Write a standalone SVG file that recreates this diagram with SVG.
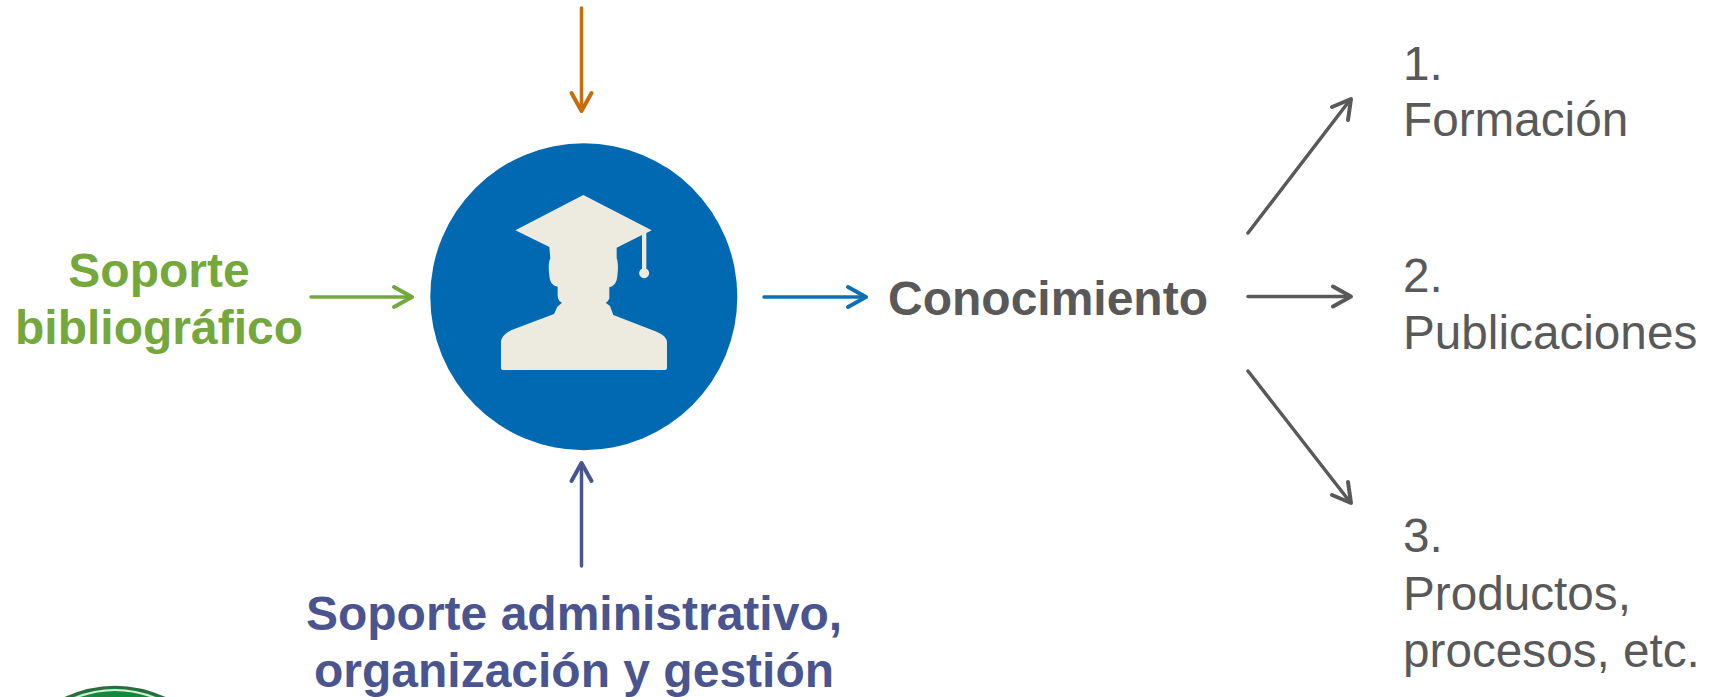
<svg xmlns="http://www.w3.org/2000/svg" width="1716" height="697" viewBox="0 0 1716 697">
<style>
text{font-family:"Liberation Sans",Arial,sans-serif}
.b{font-weight:700;font-size:48px;text-anchor:middle}
.r{font-size:47.700px;fill:#595959}
.c{fill:none;stroke-width:3.500px;stroke-linecap:round;stroke-linejoin:round}
.h{stroke-width:4px}
</style>
<rect width="1716" height="697" fill="#fff"/>
<g id="connectors">
<g class="c" stroke="#c66d0c"><path d="M581.500 8V111"/><path class="h" d="M571.500 93L581.500 111L591.500 93"/></g>
<g class="c" stroke="#74a83c"><path d="M311 297H412"/><path class="h" d="M394 287L412 297L394 307"/></g>
<g class="c" stroke="#0f6fb5"><path d="M764 297H866"/><path class="h" d="M848 287L866 297L848 307"/></g>
<g class="c" stroke="#4a5590"><path d="M581.500 566V463"/><path class="h" d="M571.500 481L581.500 463L591.500 481"/></g>
<g class="c" stroke="#595959"><path d="M1248 233L1350 100"/><path class="h" d="M1332 107L1351 99L1348 120"/></g>
<g class="c" stroke="#595959"><path d="M1248 296.500H1350"/><path class="h" d="M1333 286.500L1351 296.500L1333 306.500"/></g>
<g class="c" stroke="#595959"><path d="M1248 371L1350 502"/><path class="h" d="M1348 482L1351 503L1332 495"/></g>
</g>
<g id="center-node">
<circle cx="583.800" cy="296.700" r="153.500" fill="#0069b1"/>
<g transform="translate(470 170) scale(.33333)" fill="#edebe0">
<path d="M340 75L545 181L529 189V296A15 15 0 1 1 516 296V195L440 233L440 265C446 280 444 310 440 330C436 343 428 350 418 352L418 385C416 392 412 396 407 398L420 408L430 435L560 485C580 494 591 505 591 515V594Q591 600 585 600H99Q93 600 93 594V515C93 505 104 490 125 480L252 432L262 410L276 398C266 394 263 385 263 375V350C250 348 242 340 239 325C235 300 235 275 241 265L238 231L136 181Z"/>
</g>
</g>
<g id="soporte-bibliografico"><text class="b" fill="#74a83c" x="159" y="287">Soporte</text><text class="b" fill="#74a83c" x="159" y="344">bibliográfico</text></g>
<g id="soporte-administrativo"><text class="b" fill="#4a5590" x="574" y="630">Soporte administrativo,</text><text class="b" fill="#4a5590" x="574" y="687">organización y gestión</text></g>
<g id="conocimiento"><text class="b" fill="#595959" x="1048" y="315">Conocimiento</text></g>
<g id="item-1"><text class="r" x="1403" y="80">1.</text><text class="r" x="1403" y="136">Formación</text></g>
<g id="item-2"><text class="r" x="1403" y="292">2.</text><text class="r" x="1403" y="349">Publicaciones</text></g>
<g id="item-3"><text class="r" x="1403" y="552">3.</text><text class="r" x="1403" y="610">Productos,</text><text class="r" x="1403" y="667">procesos, etc.</text></g>
<g id="logo"><path d="M63 699Q115 675 167 699" fill="#0f8a3c" stroke="#2c6b3f" stroke-width="2.500"/><path d="M72 699Q115 681 158 699" fill="#0f8a3c" stroke="#d8ecd8" stroke-width="2"/></g>
</svg>
